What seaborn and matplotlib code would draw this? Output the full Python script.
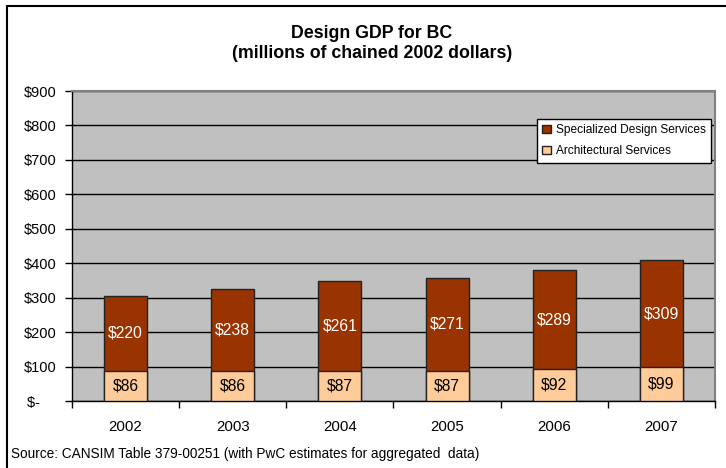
import matplotlib
matplotlib.use("Agg")
import matplotlib.pyplot as plt
from matplotlib.patches import Rectangle, Patch
from matplotlib.ticker import FixedLocator
import seaborn as sns
import pandas as pd

years = ["2002", "2003", "2004", "2005", "2006", "2007"]
architectural = [86, 86, 87, 87, 92, 99]
specialized = [220, 238, 261, 271, 289, 309]
y_ticks = [0, 100, 200, 300, 400, 500, 600, 700, 800, 900]
y_tick_labels = ["$-    ", "$100", "$200", "$300", "$400", "$500",
                 "$600", "$700", "$800", "$900"]

DARK = "#993300"
PEACH = "#FFCC99"
PLOT_BG = "#C0C0C0"

sns.set_theme(style="white")
plt.rcParams["font.family"] = ["Liberation Sans", "DejaVu Sans"]
plt.rcParams["text.color"] = "black"

df = pd.DataFrame({"year": years, "arch": architectural, "spec": specialized})
df["total"] = df["arch"] + df["spec"]

W, H = 726, 468
fig = plt.figure(figsize=(W / 100, H / 100), dpi=100)
fig.patch.set_facecolor("white")

L, R, T, B = 72, 715, 91, 401
ax = fig.add_axes([L / W, 1 - B / H, (R - L) / W, (B - T) / H])
ax.set_facecolor(PLOT_BG)

# stacked bars: totals in dark red, architectural segment drawn over the base
sns.barplot(data=df, x="year", y="total", color=DARK, width=0.4,
            edgecolor="#222222", linewidth=1, saturation=1, ax=ax, zorder=3)
sns.barplot(data=df, x="year", y="arch", color=PEACH, width=0.4,
            edgecolor="#222222", linewidth=1, saturation=1, ax=ax, zorder=4)

for i, (a, s) in enumerate(zip(architectural, specialized)):
    ax.text(i, a / 2, f"${a}", ha="center", va="center", fontsize=11.3,
            color="black", zorder=5)
    ax.text(i, a + s / 2, f"${s}", ha="center", va="center", fontsize=11.3,
            color="white", zorder=5)

ax.set_xlim(-0.5, len(years) - 0.5)
ax.set_ylim(0, 900)
ax.set_yticks(y_ticks)
ax.set_yticklabels(y_tick_labels)
ax.grid(axis="y", color="black", linewidth=1, zorder=1)
ax.set_axisbelow(True)
ax.set_xlabel("")
ax.set_ylabel("")

ax.xaxis.set_minor_locator(FixedLocator([i - 0.5 for i in range(len(years) + 1)]))
ax.tick_params(axis="x", which="major", length=0, pad=14, labelsize=10.8,
               labelcolor="black")
ax.tick_params(axis="x", which="minor", length=5, width=1, color="black",
               direction="out", bottom=True)
ax.tick_params(axis="y", which="major", length=5, width=1, color="black",
               direction="out", left=True, pad=6, labelsize=10.5,
               labelcolor="black")

for side in ["left", "bottom"]:
    ax.spines[side].set_color("black")
    ax.spines[side].set_linewidth(1)
for side in ["top", "right"]:
    ax.spines[side].set_color("#808080")
    ax.spines[side].set_linewidth(1.5)

handles = [Patch(facecolor=DARK, edgecolor="#222222", label="Specialized Design Services"),
           Patch(facecolor=PEACH, edgecolor="#222222", label="Architectural Services")]
leg = ax.legend(handles=handles, loc="upper left",
                bbox_to_anchor=((537 - L) / (R - L), (B - 119) / (B - T)),
                fontsize=8.6, frameon=True, fancybox=False, framealpha=1,
                handlelength=0.7, handleheight=0.7, handletextpad=0.4,
                borderpad=0.45, labelspacing=0.75, borderaxespad=0)
leg.get_frame().set_edgecolor("black")
leg.get_frame().set_linewidth(1)
leg.get_frame().set_facecolor("white")
leg.set_zorder(10)

fig.text(372 / W, 1 - 33 / H, "Design GDP for BC", ha="center", va="center",
         fontsize=12.8, fontweight="bold")
fig.text(372 / W, 1 - 53 / H, "(millions of chained 2002 dollars)",
         ha="center", va="center", fontsize=12.8, fontweight="bold")
fig.text(11 / W, 1 - 454 / H,
         "Source: CANSIM Table 379-00251 (with PwC estimates for aggregated  data)",
         ha="left", va="center", fontsize=9.8)

# outer chart border (runs off the lower and right edges)
fig.patches.append(Rectangle((7 / W, -0.05), 1.1, 1 - 6 / H + 0.05,
                             transform=fig.transFigure, fill=False,
                             edgecolor="black", linewidth=1.5))

fig.savefig("out.png", dpi=100)
